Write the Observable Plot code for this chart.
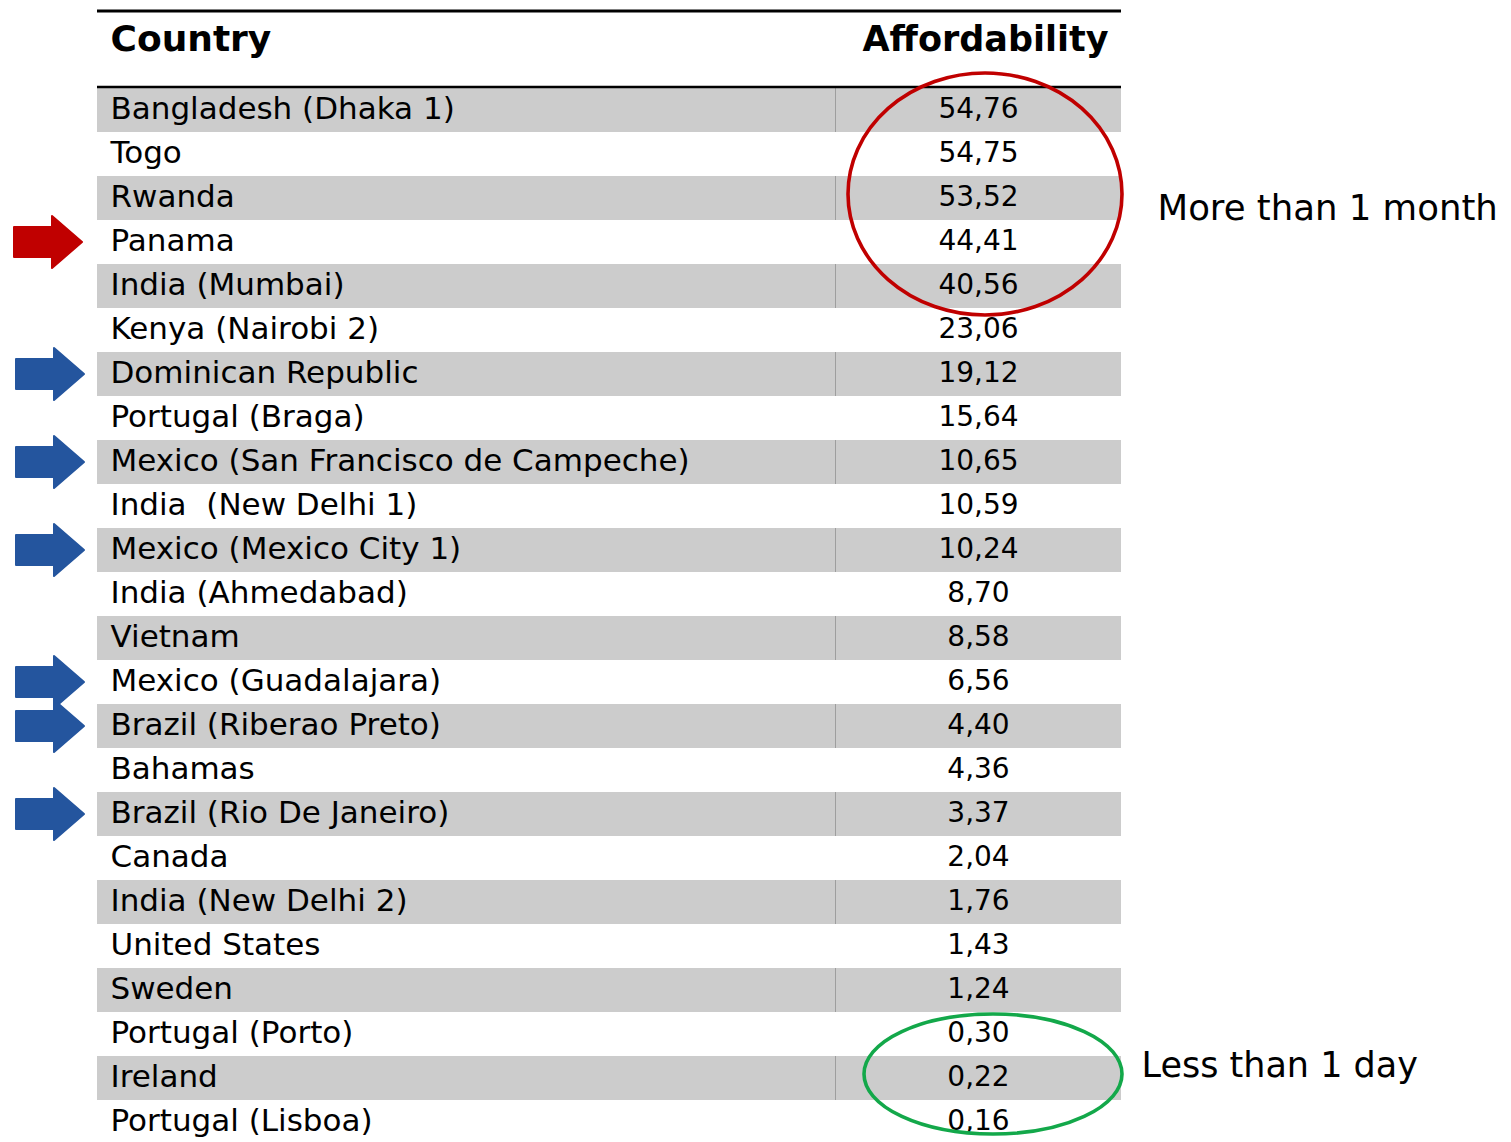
<!DOCTYPE html>
<html>
<head>
<meta charset="utf-8">
<script src="https://cdn.jsdelivr.net/npm/d3@7"></script>
<script src="https://cdn.jsdelivr.net/npm/@observablehq/plot@0.6"></script>
<style>
  html, body { margin: 0; padding: 0; background: #fff; }
  #chart svg { display: block; }
</style>
</head>
<body>
<div id="chart"></div>
<script>
// ---- data ----
const headers = ["Country", "Affordability"];
const countries = [
  "Bangladesh (Dhaka 1)", "Togo", "Rwanda", "Panama", "India (Mumbai)",
  "Kenya (Nairobi 2)", "Dominican Republic", "Portugal (Braga)",
  "Mexico (San Francisco de Campeche)", "India  (New Delhi 1)",
  "Mexico (Mexico City 1)", "India (Ahmedabad)", "Vietnam",
  "Mexico (Guadalajara)", "Brazil (Riberao Preto)", "Bahamas",
  "Brazil (Rio De Janeiro)", "Canada", "India (New Delhi 2)",
  "United States", "Sweden", "Portugal (Porto)", "Ireland", "Portugal (Lisboa)"
];
const affordability = [
  54.76, 54.75, 53.52, 44.41, 40.56, 23.06, 19.12, 15.64, 10.65, 10.59,
  10.24, 8.70, 8.58, 6.56, 4.40, 4.36, 3.37, 2.04, 1.76, 1.43, 1.24,
  0.30, 0.22, 0.16
];
const redArrowRows = ["Panama"];
const blueArrowRows = [
  "Dominican Republic", "Mexico (San Francisco de Campeche)",
  "Mexico (Mexico City 1)", "Mexico (Guadalajara)",
  "Brazil (Riberao Preto)", "Brazil (Rio De Janeiro)"
];
const moreGroup = ["Bangladesh (Dhaka 1)", "Togo", "Rwanda", "Panama", "India (Mumbai)"];
const lessGroup = ["Portugal (Porto)", "Ireland", "Portugal (Lisboa)"];
const moreLabel = "More than 1 month";
const lessLabel = "Less than 1 day";

// ---- table ----
const rows = countries.map((c, i) => ({country: c, value: affordability[i], i}));
const greyRows = rows.filter(d => d.i % 2 === 0);
const fmt = v => v.toFixed(2).replace(".", ",");

const FONT = "DejaVu Sans";
const rowH = 44.17;
const tableTop = 86;
const tableLeft = 97, tableRight = 1121;

function annotations(index, scales) {
  const y = scales.y;
  const bw = y(countries[1]) - y(countries[0]);
  const cy = c => y(c) + bw / 2;
  const g = d3.create("svg:g");
  // column separator in shaded rows
  greyRows.forEach(d => {
    g.append("line").attr("x1", 835.5).attr("x2", 835.5)
      .attr("y1", y(d.country)).attr("y2", y(d.country) + bw)
      .attr("stroke", "#9e9e9e").attr("stroke-width", 1);
  });
  // table rules
  const y0 = y(countries[0]);
  g.append("line").attr("x1", tableLeft).attr("x2", tableRight)
    .attr("y1", y0 - 77).attr("y2", y0 - 77)
    .attr("stroke", "#000").attr("stroke-width", 3);
  g.append("line").attr("x1", tableLeft).attr("x2", tableRight)
    .attr("y1", y0 - 1).attr("y2", y0 - 1)
    .attr("stroke", "#000").attr("stroke-width", 2.5);
  // ellipses
  const ell = (group, cx, rx, extra, color) => {
    const a = cy(group[0]), b = cy(group[group.length - 1]);
    g.append("ellipse")
      .attr("cx", cx).attr("cy", (a + b) / 2 - 4)
      .attr("rx", rx).attr("ry", (b - a) / 2 + extra)
      .attr("fill", "none").attr("stroke", color).attr("stroke-width", 3.6);
  };
  ell(moreGroup, 985, 137, 33, "#c00000");
  ell(lessGroup, 993, 129, 16, "#13a84a");
  // arrows
  const arrow = (row, x0, color) => {
    const c = cy(row);
    const p = [
      [x0, c - 15], [x0 + 38, c - 15], [x0 + 38, c - 26], [x0 + 68, c],
      [x0 + 38, c + 26], [x0 + 38, c + 15], [x0, c + 15]
    ];
    g.append("path")
      .attr("d", "M" + p.map(q => q.join(",")).join("L") + "Z")
      .attr("fill", color).attr("stroke", color)
      .attr("stroke-width", 2).attr("stroke-linejoin", "round");
  };
  redArrowRows.forEach(r => arrow(r, 14, "#c00000"));
  blueArrowRows.forEach(r => arrow(r, 16, "#24559e"));
  return g.node();
}

const chart = Plot.plot({
  width: 1511,
  height: 1142,
  margin: 0,
  style: {fontFamily: FONT, background: "#fff", color: "#000"},
  x: {domain: [0, 1511], range: [0, 1511], axis: null},
  y: {type: "band", domain: countries, range: [tableTop, tableTop + countries.length * rowH], padding: 0, axis: null},
  marks: [
    Plot.barX(greyRows, {x1: tableLeft, x2: tableRight, y: "country", fill: "#cccccc"}),
    Plot.text(rows, {x: 110, y: "country", text: "country", textAnchor: "start",
      fontSize: 31, fill: "#000", dy: -1}),
    Plot.text(rows, {x: 978, y: "country", text: d => fmt(d.value), textAnchor: "middle",
      fontSize: 28, fill: "#000", dy: -1}),
    Plot.text([headers[0]], {x: 110, frameAnchor: "top", lineAnchor: "middle", dy: 39,
      text: d => d, textAnchor: "start", fontSize: 36, fontWeight: "bold", fill: "#000"}),
    Plot.text([headers[1]], {x: 1108, frameAnchor: "top", lineAnchor: "middle", dy: 39,
      text: d => d, textAnchor: "end", fontSize: 35, fontWeight: "bold", fill: "#000"}),
    Plot.text([moreLabel], {x: 1157, y: d => "Rwanda", dy: 10, text: d => d,
      textAnchor: "start", fontSize: 35.5, fill: "#000"}),
    Plot.text([lessLabel], {x: 1141, y: d => "Ireland", dy: -13, text: d => d,
      textAnchor: "start", fontSize: 35, fill: "#000"}),
    annotations
  ]
});
document.getElementById("chart").appendChild(chart);
</script>
</body>
</html>
